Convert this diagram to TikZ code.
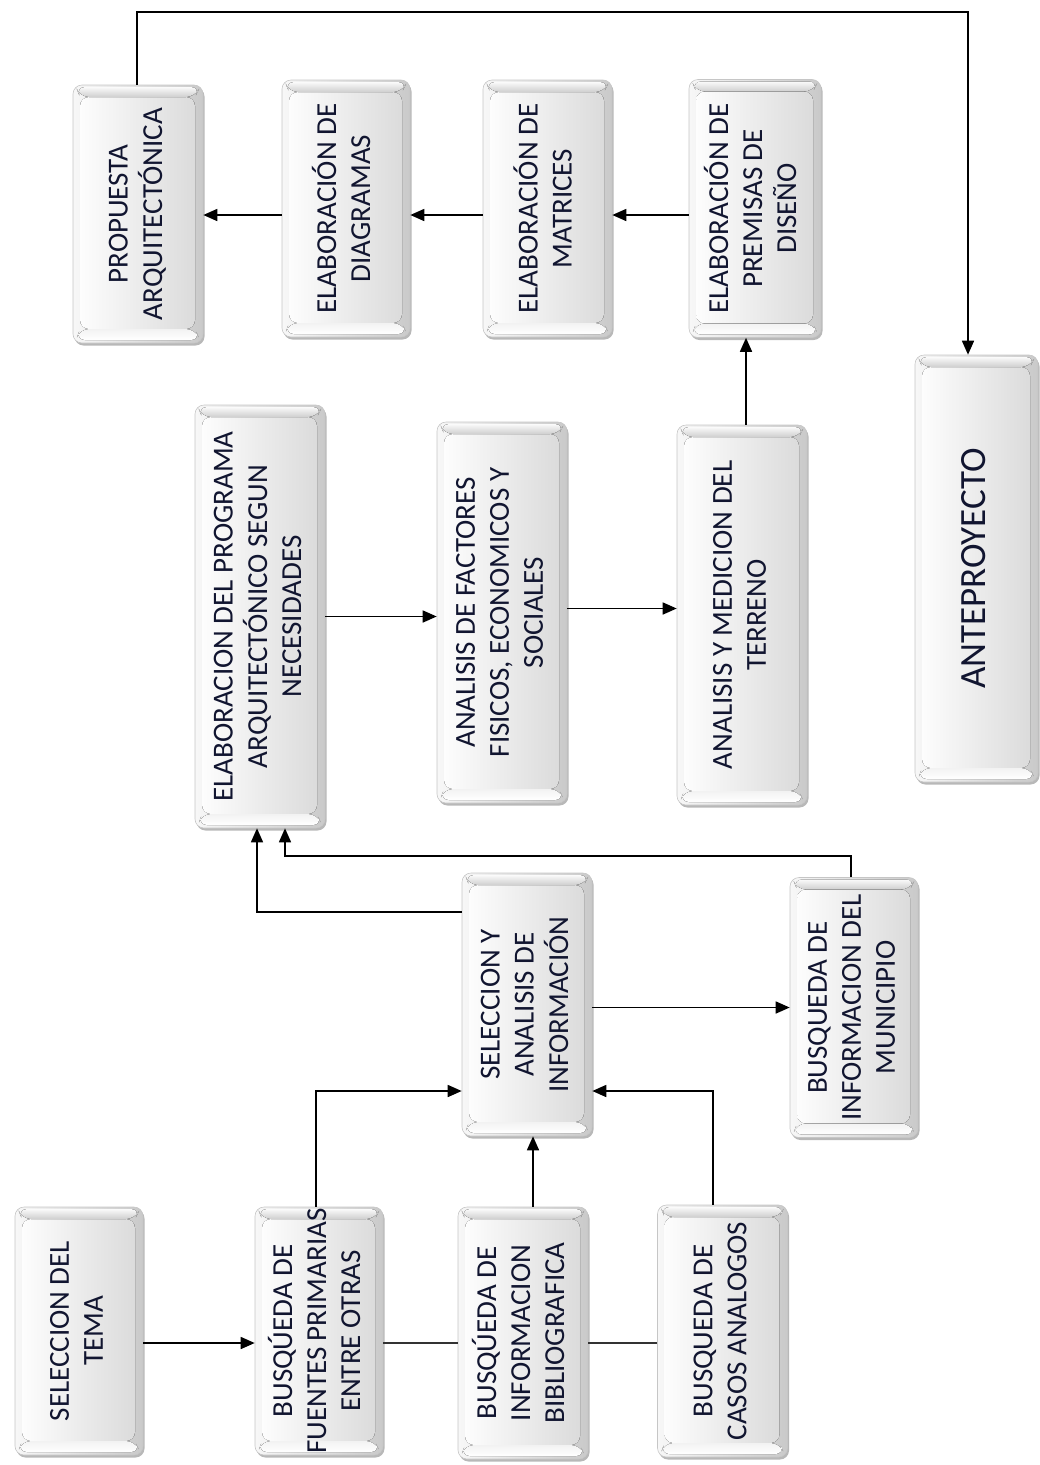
\documentclass[tikz,border=0pt]{standalone}
\usepackage{fontspec}
\setmainfont{Carlito}
\usepackage{graphicx}
\usetikzlibrary{arrows.meta,shadows,calc}
\definecolor{txtc}{HTML}{111530}
\newcommand{\vtext}[1]{\rotatebox{90}{\begin{tabular}{@{}c@{}}#1\end{tabular}}}
\tikzset{
  box/.style={rounded corners=9pt, draw=gray!45, line width=0.6pt,
    left color=gray!6, right color=gray!42,
    drop shadow={shadow xshift=1.5pt, shadow yshift=-2.5pt, opacity=0.28, fill=black},
    inner sep=0pt, text=txtc, font=\fontsize{29}{34}\selectfont,
    path picture={
      \fill[left color=white, right color=gray!30]
        ([xshift=7pt,yshift=-12pt]path picture bounding box.north west) rectangle
        ([xshift=-8pt,yshift=14pt]path picture bounding box.south east);
      \fill[top color=gray!4, bottom color=gray!38]
        ([xshift=3pt,yshift=-2pt]path picture bounding box.north west) --
        ([xshift=-3pt,yshift=-2pt]path picture bounding box.north east) --
        ([xshift=-8pt,yshift=-12pt]path picture bounding box.north east) --
        ([xshift=7pt,yshift=-12pt]path picture bounding box.north west) -- cycle;
      \fill[top color=gray!10, bottom color=white]
        ([xshift=7pt,yshift=14pt]path picture bounding box.south west) --
        ([xshift=-8pt,yshift=14pt]path picture bounding box.south east) --
        ([xshift=-3pt,yshift=3pt]path picture bounding box.south east) --
        ([xshift=3pt,yshift=3pt]path picture bounding box.south west) -- cycle;
    }},
  arr/.style={draw=black, line width=1.6pt, -{Triangle[length=14pt,width=12pt]}},
  ln/.style={draw=black!80, line width=1.3pt}
}
\begin{document}
\begin{tikzpicture}[x=1pt,y=-1pt]
\useasboundingbox (0,0) rectangle (1040,1465);
% bottom row
\node[box, minimum width=128pt, minimum height=248pt] (sel) at (79,1331) {\vtext{SELECCION DEL\\TEMA}};
\node[box, minimum width=128pt, minimum height=248pt] (fue) at (319,1331) {\vtext{BUSQÚEDA DE\\FUENTES PRIMARIAS\\ENTRE OTRAS}};
\node[box, minimum width=130pt, minimum height=252pt] (bib) at (523,1333) {\vtext{BUSQÚEDA DE\\INFORMACION\\BIBLIOGRAFICA}};
\node[box, minimum width=130pt, minimum height=252pt] (cas) at (722.5,1331) {\vtext{BUSQUEDA DE\\CASOS ANALOGOS}};
% middle
\node[box, minimum width=130pt, minimum height=263pt] (sia) at (527,1004.5) {\vtext{SELECCION Y\\ANALISIS DE\\INFORMACIÓN}};
\node[box, minimum width=128pt, minimum height=260pt] (mun) at (854,1007.5) {\vtext{BUSQUEDA DE\\INFORMACION DEL\\MUNICIPIO}};
\node[box, minimum width=130pt, minimum height=423pt] (prog) at (260,616.5) {\vtext{ELABORACION DEL PROGRAMA\\ARQUITECTÓNICO SEGUN\\NECESIDADES}};
\node[box, minimum width=130pt, minimum height=381pt] (fac) at (502,612.5) {\vtext{ANALISIS DE FACTORES\\FISICOS, ECONOMICOS Y\\SOCIALES}};
\node[box, minimum width=130pt, minimum height=380pt] (ter) at (742,615) {\vtext{ANALISIS Y MEDICION DEL\\TERRENO}};
\node[box, minimum width=123pt, minimum height=427pt, font=\fontsize{37}{44}\selectfont] (ante) at (976.5,568.5) {\vtext{ANTEPROYECTO}};
% top row
\node[box, minimum width=130pt, minimum height=258pt] (prop) at (138,214) {\vtext{PROPUESTA\\ARQUITECTÓNICA}};
\node[box, minimum width=128pt, minimum height=257pt] (dia) at (346,208.5) {\vtext{ELABORACIÓN DE\\DIAGRAMAS}};
\node[box, minimum width=129pt, minimum height=257pt] (mat) at (547.5,208.5) {\vtext{ELABORACIÓN DE\\MATRICES}};
\node[box, minimum width=132pt, minimum height=258pt] (pre) at (755,208.5) {\vtext{ELABORACIÓN DE\\PREMISAS DE\\DISEÑO}};
% connectors bottom row
\draw[arr] ([yshift=-12pt]sel.east) -- ([yshift=-12pt]fue.west);
\draw[ln] ([yshift=-12pt]fue.east) -- ([yshift=-10pt]bib.west);
\draw[ln] ([yshift=-10pt]bib.east) -- ([yshift=-12pt]cas.west);
% to seleccion y analisis
\draw[arr] ([xshift=-3pt]fue.north) |- ([yshift=-86.5pt]sia.west);
\draw[arr] ([xshift=6pt]sia.south |- bib.north) -- ([xshift=6pt]sia.south);
\draw[arr] ([xshift=-9.5pt]cas.north) |- ([yshift=-86.5pt]sia.east);
\draw[arr] (mun.west -| sia.east) -- (mun.west);
% to programa
\draw[arr] ([yshift=92.5pt]sia.west) -| ([xshift=-3pt]prog.south);
\coordinate (j67) at (851,856);
\draw[arr] (mun.north -| j67) -- (j67) -| ([xshift=25pt]prog.south);
% middle row
\draw[arr] (prog.east) -- (prog.east -| fac.west);
\draw[arr] ([yshift=4pt]fac.east) -- ([yshift=4pt]fac.east -| ter.west);
\draw[arr] ([xshift=4pt]ter.north) -- ([xshift=4pt]ter.north |- pre.south);
% top row
\draw[arr] ([yshift=-6.5pt]pre.west) -- ([yshift=-6.5pt]pre.west -| mat.east);
\draw[arr] ([yshift=-6.5pt]mat.west) -- ([yshift=-6.5pt]mat.west -| dia.east);
\draw[arr] ([yshift=-6.5pt]dia.west) -- ([yshift=-6.5pt]dia.west -| prop.east);
% to anteproyecto
\coordinate (tl) at (137,12);
\coordinate (tr) at (968,12);
\draw[arr] (prop.north -| tl) -- (tl) -- (tr) -- (ante.north -| tr);
\end{tikzpicture}
\end{document}
